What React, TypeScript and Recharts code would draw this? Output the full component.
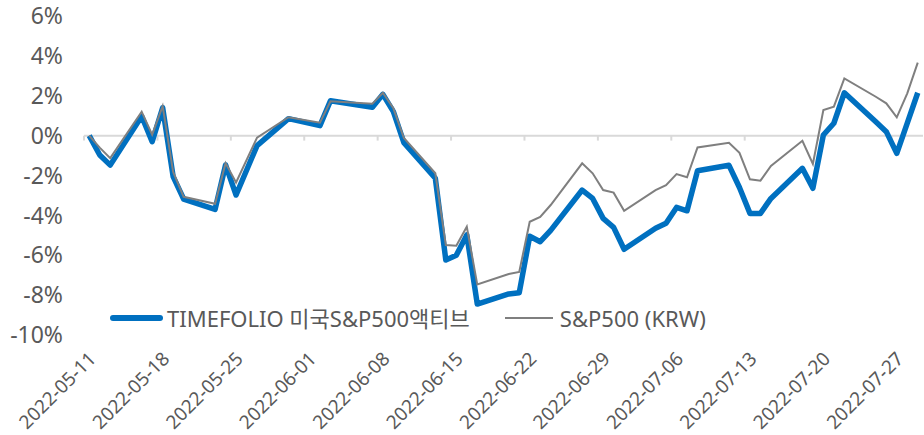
import React from 'react';
import { LineChart, Line, XAxis, YAxis, ReferenceLine, Legend } from 'recharts';

const dates = [
  '2022-05-11', '2022-05-12', '2022-05-13', '2022-05-16', '2022-05-17', '2022-05-18', '2022-05-19', '2022-05-20',
  '2022-05-23', '2022-05-24', '2022-05-25', '2022-05-27', '2022-05-30', '2022-06-02', '2022-06-03',
  '2022-06-07', '2022-06-08', '2022-06-09', '2022-06-10', '2022-06-13', '2022-06-14', '2022-06-15', '2022-06-16', '2022-06-17',
  '2022-06-20', '2022-06-21', '2022-06-22', '2022-06-23', '2022-06-24', '2022-06-27', '2022-06-28', '2022-06-29', '2022-06-30',
  '2022-07-01', '2022-07-04', '2022-07-05', '2022-07-06', '2022-07-07', '2022-07-08', '2022-07-11', '2022-07-12', '2022-07-13',
  '2022-07-14', '2022-07-15', '2022-07-18', '2022-07-19', '2022-07-20', '2022-07-21', '2022-07-22', '2022-07-25', '2022-07-26',
  '2022-07-27', '2022-07-28', '2022-07-29',
];

const timefolio = [
  0, -0.97, -1.48, 0.97, -0.3, 1.4, -2.06, -3.18,
  -3.7, -1.47, -2.98, -0.5, 0.85, 0.5, 1.75,
  1.42, 2.07, 1.2, -0.35, -2.14, -6.24, -6.0, -4.98, -8.45,
  -7.94, -7.88, -5.05, -5.32, -4.75, -2.73, -3.15, -4.15, -4.6,
  -5.7, -4.65, -4.4, -3.6, -3.77, -1.76, -1.49, -2.6, -3.9,
  -3.9, -3.15, -1.64, -2.64, 0.03, 0.62, 2.15, 0.7, 0.2,
  -0.89, 0.63, 2.15,
];

const sp500krw = [
  0, -0.6, -1.13, 1.2, 0.05, 1.48, -1.82, -3.07,
  -3.42, -1.38, -2.35, -0.1, 0.92, 0.65, 1.72,
  1.6, 2.15, 1.37, -0.12, -1.89, -5.49, -5.52, -4.57, -7.47,
  -6.94, -6.84, -4.32, -4.08, -3.48, -1.39, -1.89, -2.73, -2.86,
  -3.77, -2.73, -2.48, -1.93, -2.09, -0.59, -0.36, -0.86, -2.19,
  -2.26, -1.52, -0.26, -1.42, 1.28, 1.45, 2.87, 1.95, 1.62,
  0.92, 2.12, 3.66,
];

const xTickLabels = [
  '2022-05-11', '2022-05-18', '2022-05-25', '2022-06-01', '2022-06-08', '2022-06-15',
  '2022-06-22', '2022-06-29', '2022-07-06', '2022-07-13', '2022-07-20', '2022-07-27',
];
const yTickValues = [-10, -8, -6, -4, -2, 0, 2, 4, 6];
const seriesNames = ['TIMEFOLIO 미국S&P500액티브', 'S&P500 (KRW)'];
const seriesColors = ['#0070C0', '#7F7F7F'];

const DAY = 86400000;
const t0 = Date.parse(dates[0] + 'T00:00:00Z');
const dayOf = (d: string) => Math.round((Date.parse(d + 'T00:00:00Z') - t0) / DAY);
const lastDay = dayOf(dates[dates.length - 1]);

const data = dates.map((d, i) => ({ day: dayOf(d), date: d, tf: timefolio[i], sp: sp500krw[i] }));
const xTicks = xTickLabels.map(dayOf);

const FONT = "'Noto Sans', 'Noto Sans CJK KR', sans-serif";
const TEXT = '#595959';

function XTick(props: any) {
  const { x, y, payload } = props;
  const idx = xTicks.indexOf(payload.value);
  const label = idx >= 0 ? xTickLabels[idx] : '';
  return (
    <g transform={`translate(${x + 8},${y + 25})`}>
      <text transform="rotate(-45)" textAnchor="end" fill={TEXT} fontSize={19} fontFamily={FONT}>
        {label}
      </text>
    </g>
  );
}

function LegendContent() {
  return (
    <div
      style={{
        display: 'flex',
        alignItems: 'center',
        fontFamily: FONT,
        fontSize: 22,
        color: TEXT,
        whiteSpace: 'nowrap',
        lineHeight: '30px',
        height: 30,
      }}
    >
      {seriesNames.map((name, i) => (
        <div key={name} style={{ display: 'flex', alignItems: 'center', marginRight: i === 0 ? 35 : 0 }}>
          <svg width={i === 0 ? 53 : 48} height={10} style={{ display: 'block' }}>
            {i === 0 ? (
              <line x1={3} y1={5} x2={50} y2={5} stroke={seriesColors[i]} strokeWidth={6} strokeLinecap="round" />
            ) : (
              <line x1={0} y1={5} x2={48} y2={5} stroke={seriesColors[i]} strokeWidth={2} />
            )}
          </svg>
          <span style={{ marginLeft: i === 0 ? 4 : 7 }}>{name}</span>
        </div>
      ))}
    </div>
  );
}

export default function App() {
  return (
    <div style={{ position: 'absolute', left: 0, top: 0, background: '#fff' }}>
      <LineChart width={924} height={435} data={data} margin={{ top: 16, right: 1, bottom: 0, left: 0 }}>
        <XAxis
          dataKey="day"
          type="number"
          domain={[-0.5, lastDay + 0.5]}
          ticks={xTicks}
          interval={0}
          axisLine={false}
          tickLine={false}
          tickSize={0}
          tickMargin={0}
          height={100}
          tick={<XTick />}
        />
        <YAxis
          type="number"
          domain={[-10, 6]}
          ticks={yTickValues}
          interval={0}
          axisLine={false}
          tickLine={false}
          tickSize={0}
          tickMargin={21}
          width={84}
          tickFormatter={(v: number) => `${v}%`}
          tick={{ fill: TEXT, fontSize: 23, fontFamily: FONT }}
        />
        <ReferenceLine y={0} stroke="#D9D9D9" strokeWidth={2} />
        {xTicks.map((t) => (
          <ReferenceLine
            key={'tk' + t}
            segment={[{ x: t - 0.5, y: 0 }, { x: t - 0.5, y: -0.25 }]}
            stroke="#D9D9D9"
            strokeWidth={2}
          />
        ))}
        <Line
          type="linear"
          dataKey="tf"
          name={seriesNames[0]}
          stroke={seriesColors[0]}
          strokeWidth={5.5}
          strokeLinejoin="round"
          dot={false}
          activeDot={false}
          isAnimationActive={false}
        />
        <Line
          type="linear"
          dataKey="sp"
          name={seriesNames[1]}
          stroke={seriesColors[1]}
          strokeWidth={2}
          dot={false}
          activeDot={false}
          isAnimationActive={false}
        />
        <Legend
          layout="vertical"
          align="center"
          verticalAlign="middle"
          content={<LegendContent />}
          wrapperStyle={{ top: 303, left: 110, width: 700, height: 30 }}
        />
      </LineChart>
    </div>
  );
}
